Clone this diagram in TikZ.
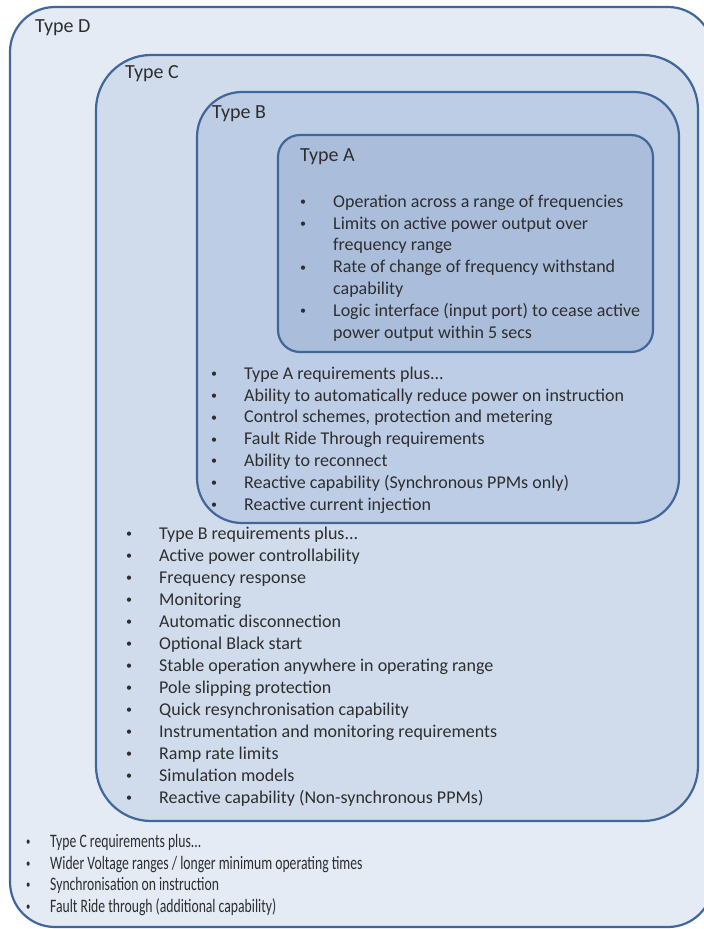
\documentclass[tikz,border=0pt]{standalone}
\usepackage{fontspec}
\setmainfont{Carlito}
\newfontfamily\narrowfont[FakeStretch=0.72]{Carlito}
\usetikzlibrary{positioning}
\definecolor{edgeblue}{HTML}{41679A}
\definecolor{fillD}{HTML}{E4EBF5}
\definecolor{fillC}{HTML}{D0DCEC}
\definecolor{fillB}{HTML}{BCCDE5}
\definecolor{fillA}{HTML}{AABEDC}
\definecolor{textgray}{HTML}{2E2E2E}
\tikzset{
  tbox/.style={draw=edgeblue,line width=2.2pt,inner sep=0pt},
  title/.style={anchor=base west,inner sep=0pt,text=textgray,font=\fontsize{20}{24}\selectfont},
  list/.style={anchor=base west,inner sep=0pt,align=left,text=textgray,font=\fontsize{18}{21.8}\selectfont}
}
\newcommand{\itm}[2]{\makebox[#1][l]{\raisebox{1.6pt}{\fontsize{12}{12}\selectfont\textbullet}}#2}
\begin{document}
\begin{tikzpicture}[x=1pt,y=-1pt]
\useasboundingbox (0,0) rectangle (704,929);
% nested boxes
\node[tbox,fill=fillD,rounded corners=45pt,minimum width=703pt,minimum height=920pt] (boxD) at (361.5,467) {};
\node[tbox,fill=fillC,rounded corners=55pt,minimum width=602pt,minimum height=766pt] (boxC) at (397,438) {};
\node[tbox,fill=fillB,rounded corners=45pt,minimum width=482pt,minimum height=431pt] (boxB) at (438,307.5) {};
\node[tbox,fill=fillA,rounded corners=22pt,minimum width=375pt,minimum height=217pt] (boxA) at (465.5,243.5) {};
% titles
\node[title] (typeD) at (35,32) {Type D};
\node[title] (typeC) at (125,78) {Type C};
\node[title] (typeB) at (212,118) {Type B};
\node[title] (typeA) at (300,161) {Type A};
% requirement lists (placed by their last baseline)
\node[list] (listA) at (300,338) {\itm{33pt}{Operation across a range of frequencies}\\
\itm{33pt}{Limits on active power output over}\\
\hspace*{33pt}frequency range\\
\itm{33pt}{Rate of change of frequency withstand}\\
\hspace*{33pt}capability\\
\itm{33pt}{Logic interface (input port) to cease active}\\
\hspace*{33pt}power output within 5 secs};
\node[list] (listB) at (211,510) {\itm{33pt}{Type A requirements plus...}\\
\itm{33pt}{Ability to automatically reduce power on instruction}\\
\itm{33pt}{Control schemes, protection and metering}\\
\itm{33pt}{Fault Ride Through requirements}\\
\itm{33pt}{Ability to reconnect}\\
\itm{33pt}{Reactive capability (Synchronous PPMs only)}\\
\itm{33pt}{Reactive current injection}};
\node[list,font=\fontsize{18}{22}\selectfont] (listC) at (126,803) {\itm{33pt}{Type B requirements plus...}\\
\itm{33pt}{Active power controllability}\\
\itm{33pt}{Frequency response}\\
\itm{33pt}{Monitoring}\\
\itm{33pt}{Automatic disconnection}\\
\itm{33pt}{Optional Black start}\\
\itm{33pt}{Stable operation anywhere in operating range}\\
\itm{33pt}{Pole slipping protection}\\
\itm{33pt}{Quick resynchronisation capability}\\
\itm{33pt}{Instrumentation and monitoring requirements}\\
\itm{33pt}{Ramp rate limits}\\
\itm{33pt}{Simulation models}\\
\itm{33pt}{Reactive capability (Non-synchronous PPMs)}};
\node[list,font={\narrowfont\fontsize{19}{21.5}\selectfont}] (listD) at (26,912) {\itm{24pt}{Type C requirements plus...}\\
\itm{24pt}{Wider Voltage ranges / longer minimum operating times}\\
\itm{24pt}{Synchronisation on instruction}\\
\itm{24pt}{Fault Ride through (additional capability)}};
\end{tikzpicture}
\end{document}
